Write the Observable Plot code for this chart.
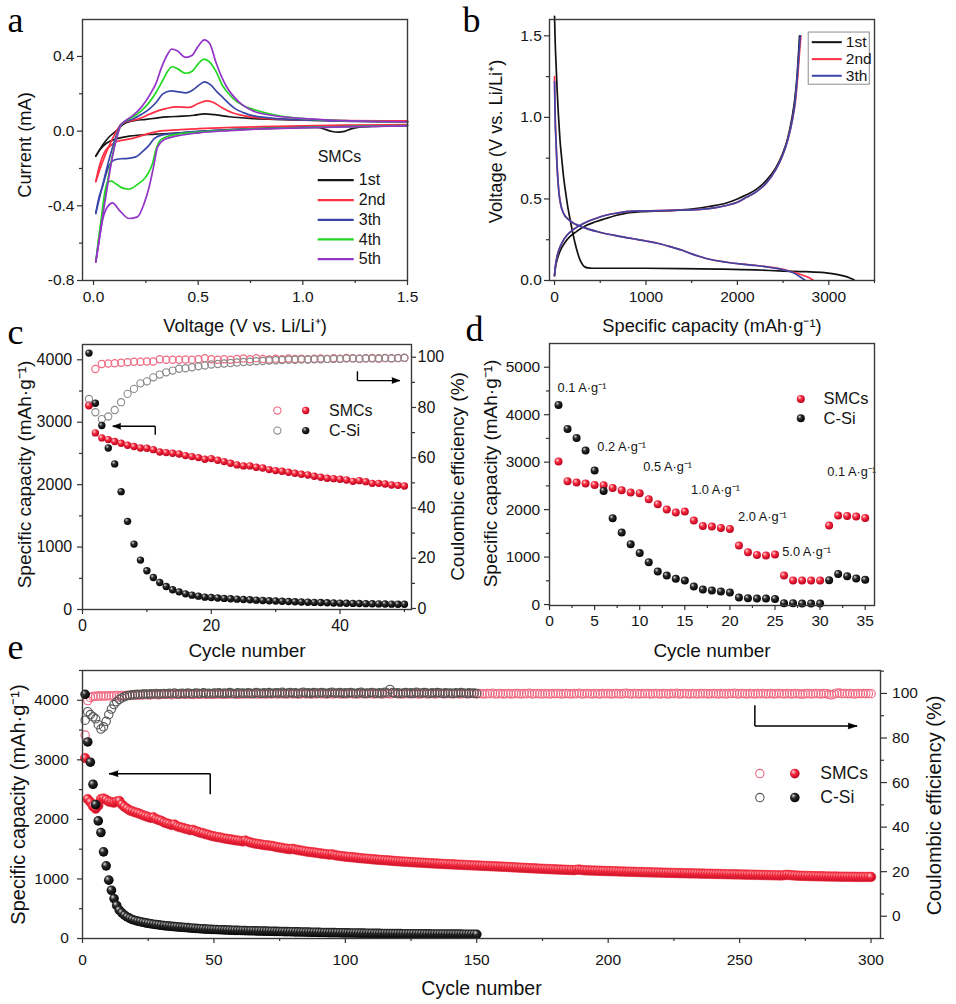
<!DOCTYPE html>
<html><head><meta charset="utf-8">
<script src="https://cdn.jsdelivr.net/npm/d3@7"></script>
<script src="https://cdn.jsdelivr.net/npm/@observablehq/plot@0.6"></script>
<style>
body{margin:0;background:#fff;}
#root{position:relative;width:956px;height:1004px;overflow:hidden;background:#fff;}
.panel{position:absolute;}
.panel svg{overflow:visible;}
</style></head><body>
<svg width="0" height="0" style="position:absolute">
<defs>
<radialGradient id="redBall" cx="0.42" cy="0.4" r="0.62" fx="0.33" fy="0.3">
<stop offset="0" stop-color="#ffd8dc"/><stop offset="0.45" stop-color="#f5283c"/><stop offset="1" stop-color="#b4001c"/>
</radialGradient>
<radialGradient id="blackBall" cx="0.42" cy="0.4" r="0.62" fx="0.33" fy="0.3">
<stop offset="0" stop-color="#dadada"/><stop offset="0.4" stop-color="#2a2a2a"/><stop offset="1" stop-color="#000"/>
</radialGradient>
</defs></svg>
<div id="root"></div>
<script>
// ---------------- Panel a : cyclic voltammetry (V, mA) ----------------
const cvCycles = ["1st", "2nd", "3th", "4th", "5th"];
const cv1Cat = [[0.011,-0.134],[0.03,-0.1],[0.06,-0.066],[0.099,-0.045],[0.17,-0.027],[0.298,-0.016],[0.4,-0.01],[0.5,-0.003],[0.6,0.004],[0.7,0.01],[0.8,0.015],[0.9,0.018],[1.0,0.021],[1.07,0.02],[1.11,0.008],[1.14,-0.002],[1.17,-0.005],[1.2,-0.001],[1.23,0.012],[1.27,0.021],[1.35,0.026],[1.5,0.03]];
const cv1An = [[0.011,-0.134],[0.043,-0.075],[0.075,-0.03],[0.107,0.0],[0.14,0.035],[0.17,0.05],[0.2,0.057],[0.25,0.063],[0.3,0.07],[0.35,0.076],[0.42,0.08],[0.48,0.085],[0.53,0.092],[0.58,0.088],[0.65,0.077],[0.75,0.068],[0.9,0.062],[1.1,0.057],[1.3,0.053],[1.5,0.05]];
const cv2Cat = [[0.011,-0.27],[0.025,-0.2],[0.04,-0.145],[0.06,-0.1],[0.085,-0.075],[0.107,-0.057],[0.187,-0.039],[0.266,-0.012],[0.314,0.0],[0.4,0.007],[0.5,0.013],[0.6,0.018],[0.8,0.024],[1.0,0.028],[1.2,0.032],[1.5,0.035]];
const cv2An = [[0.011,-0.27],[0.04,-0.175],[0.07,-0.09],[0.1,-0.02],[0.13,0.035],[0.16,0.052],[0.186,0.057],[0.23,0.072],[0.266,0.09],[0.31,0.11],[0.346,0.121],[0.394,0.13],[0.458,0.127],[0.5,0.148],[0.54,0.162],[0.57,0.155],[0.61,0.128],[0.66,0.1],[0.72,0.082],[0.8,0.07],[0.9,0.064],[1.0,0.06],[1.2,0.057],[1.5,0.055]];
const cv3Cat = [[0.011,-0.44],[0.025,-0.36],[0.043,-0.298],[0.06,-0.23],[0.075,-0.182],[0.099,-0.155],[0.13,-0.148],[0.157,-0.147],[0.202,-0.138],[0.234,-0.11],[0.266,-0.075],[0.29,-0.04],[0.33,-0.02],[0.43,-0.008],[0.6,0.005],[0.8,0.014],[1.0,0.02],[1.2,0.025],[1.5,0.03]];
const cv3An = [[0.011,-0.44],[0.03,-0.35],[0.05,-0.26],[0.07,-0.17],[0.09,-0.09],[0.11,-0.02],[0.13,0.035],[0.16,0.055],[0.186,0.064],[0.23,0.09],[0.266,0.118],[0.3,0.155],[0.33,0.198],[0.37,0.216],[0.4,0.212],[0.44,0.205],[0.48,0.225],[0.51,0.252],[0.53,0.264],[0.56,0.248],[0.59,0.21],[0.617,0.181],[0.65,0.145],[0.68,0.118],[0.72,0.098],[0.76,0.083],[0.85,0.07],[1.0,0.06],[1.2,0.053],[1.5,0.048]];
const cv4Cat = [[0.011,-0.7],[0.025,-0.57],[0.04,-0.44],[0.055,-0.32],[0.067,-0.272],[0.085,-0.268],[0.11,-0.285],[0.14,-0.305],[0.17,-0.31],[0.21,-0.285],[0.25,-0.245],[0.282,-0.173],[0.298,-0.1],[0.32,-0.048],[0.378,-0.021],[0.505,-0.005],[0.65,0.005],[0.8,0.013],[1.0,0.019],[1.2,0.024],[1.5,0.03]];
const cv4An = [[0.011,-0.7],[0.03,-0.54],[0.05,-0.39],[0.07,-0.25],[0.09,-0.13],[0.11,-0.035],[0.13,0.03],[0.16,0.06],[0.186,0.075],[0.23,0.11],[0.266,0.154],[0.3,0.21],[0.33,0.27],[0.355,0.322],[0.375,0.345],[0.4,0.335],[0.44,0.31],[0.47,0.32],[0.5,0.36],[0.527,0.386],[0.555,0.37],[0.585,0.32],[0.617,0.243],[0.65,0.195],[0.68,0.162],[0.72,0.135],[0.76,0.118],[0.85,0.09],[0.95,0.072],[1.1,0.06],[1.3,0.052],[1.5,0.048]];
const cv5Cat = [[0.011,-0.7],[0.025,-0.6],[0.043,-0.477],[0.067,-0.405],[0.091,-0.384],[0.123,-0.423],[0.17,-0.468],[0.21,-0.459],[0.242,-0.387],[0.266,-0.298],[0.29,-0.173],[0.306,-0.084],[0.338,-0.045],[0.394,-0.027],[0.505,-0.009],[0.65,0.003],[0.8,0.012],[1.0,0.018],[1.2,0.023],[1.5,0.028]];
const cv5An = [[0.011,-0.7],[0.03,-0.56],[0.05,-0.41],[0.07,-0.27],[0.09,-0.14],[0.11,-0.04],[0.13,0.03],[0.16,0.062],[0.186,0.082],[0.23,0.13],[0.266,0.189],[0.3,0.26],[0.322,0.332],[0.354,0.412],[0.374,0.44],[0.4,0.43],[0.44,0.395],[0.47,0.405],[0.5,0.455],[0.529,0.489],[0.555,0.47],[0.585,0.368],[0.633,0.243],[0.697,0.154],[0.76,0.109],[0.85,0.085],[0.99,0.068],[1.2,0.056],[1.5,0.05]];
const cvColors = ["#161616", "#ff2e42", "#3a47a8", "#22d822", "#9433c8"];
const cvCathodic = [cv1Cat, cv2Cat, cv3Cat, cv4Cat, cv5Cat];
const cvAnodic = [cv1An, cv2An, cv3An, cv4An, cv5An];

// ---------------- Panel b : charge/discharge (mAh/g, V) ----------------
const gcdCycles = ["1st", "2nd", "3th"];
const gcd1Dis = [[0,1.62],[8,1.45],[18,1.31],[30,1.15],[44,1.0],[60,0.86],[80,0.74],[100,0.63],[124,0.53],[148,0.44],[172,0.37],[200,0.29],[226,0.225],[255,0.165],[281,0.123],[310,0.095],[336,0.082],[370,0.077],[409,0.075],[700,0.075],[1000,0.075],[1400,0.073],[1800,0.07],[2200,0.065],[2500,0.058],[2750,0.054],[2950,0.048],[3100,0.036],[3200,0.022],[3275,0.004]];
const gcd1Chg = [[0,0.03],[10,0.08],[30,0.13],[60,0.18],[110,0.23],[170,0.27],[240,0.3],[310,0.327],[450,0.36],[560,0.38],[680,0.4],[800,0.415],[950,0.422],[1100,0.425],[1300,0.43],[1500,0.438],[1700,0.455],[1880,0.475],[2000,0.5],[2100,0.525],[2210,0.56],[2320,0.615],[2420,0.69],[2490,0.77],[2550,0.87],[2595,0.99],[2630,1.12],[2655,1.27],[2672,1.42],[2680,1.5]];
const gcd2Dis = [[0,1.25],[4,1.1],[8,0.98],[15,0.88],[25,0.74],[35,0.64],[50,0.53],[70,0.46],[100,0.41],[164,0.368],[310,0.327],[493,0.296],[700,0.272],[858,0.256],[1000,0.242],[1150,0.225],[1280,0.205],[1405,0.184],[1500,0.163],[1588,0.147],[1720,0.127],[1880,0.112],[2050,0.1],[2209,0.092],[2380,0.08],[2500,0.068],[2600,0.052],[2700,0.035],[2780,0.018],[2830,0.002]];
const gcd2Chg = [[0,0.03],[10,0.09],[25,0.14],[50,0.19],[90,0.24],[140,0.28],[200,0.31],[310,0.348],[450,0.38],[560,0.4],[680,0.413],[860,0.425],[1040,0.427],[1300,0.43],[1590,0.436],[1750,0.445],[1880,0.46],[2000,0.48],[2100,0.51],[2210,0.545],[2320,0.6],[2420,0.68],[2490,0.76],[2550,0.86],[2600,0.98],[2635,1.1],[2660,1.25],[2680,1.4],[2695,1.5]];
const gcd3Dis = [[0,1.22],[4,1.08],[8,0.97],[15,0.87],[25,0.73],[35,0.63],[50,0.53],[70,0.46],[100,0.41],[164,0.368],[310,0.327],[493,0.296],[700,0.272],[858,0.256],[1000,0.242],[1150,0.225],[1280,0.205],[1405,0.184],[1500,0.163],[1588,0.147],[1720,0.127],[1880,0.112],[2050,0.1],[2209,0.092],[2380,0.078],[2500,0.066],[2600,0.05],[2680,0.025],[2740,0.002]];
const gcd3Chg = [[0,0.03],[10,0.09],[25,0.14],[50,0.19],[90,0.24],[140,0.28],[200,0.31],[310,0.348],[450,0.38],[560,0.4],[680,0.413],[860,0.425],[1040,0.427],[1300,0.43],[1590,0.436],[1750,0.445],[1880,0.46],[2000,0.48],[2100,0.51],[2210,0.545],[2320,0.6],[2420,0.68],[2490,0.76],[2550,0.86],[2600,0.98],[2632,1.1],[2656,1.25],[2674,1.4],[2688,1.5]];
const gcdColors = ["#111111", "#ff2e42", "#3a47a8"];

// ---------------- Panel c : 50 cycles at 0.1 A/g ----------------
const cSMCsCap = [3267,2829,2749,2722,2690,2663,2631,2610,2588,2583,2561,2524,2513,2503,2492,2465,2449,2433,2406,2417,2390,2369,2342,2316,2300,2300,2278,2267,2241,2225,2214,2198,2182,2166,2155,2134,2118,2102,2096,2086,2075,2053,2064,2048,2021,2021,2011,1995,1989,1979];
const cCSiCap = [4107,3305,2947,2588,2332,1888,1412,1048,791,620,513,433,369,316,283,251,230,214,198,193,185,178,172,166,160,155,150,145,140,135,131,127,123,120,117,114,111,108,105,102,100,98,96,94,92,90,88,86,85,84];
const cSMCsCE = [80.8,95.3,97.3,97.5,97.6,97.8,98.0,98.2,98.2,98.3,98.3,99.2,99.0,99.0,99.0,99.1,99.0,99.2,99.6,99.2,99.0,99.2,99.0,99.3,99.5,99.2,99.6,99.3,99.1,99.4,99.2,99.5,99.3,99.4,99.2,99.4,99.5,99.3,99.6,99.4,99.7,99.6,99.4,99.5,99.7,99.4,99.6,99.5,99.6,99.7];
const cCSiCE = [83.4,78.1,75.4,76.4,79.0,82.1,85.4,87.4,89.6,90.4,92.0,93.1,94.0,94.7,95.4,95.6,96.0,96.4,96.7,97.1,97.3,97.5,97.7,97.9,98.1,98.2,98.4,98.5,98.7,98.8,98.9,99.0,99.0,99.1,99.1,99.2,99.2,99.3,99.3,99.3,99.5,99.5,99.4,99.6,99.5,99.6,99.7,99.6,99.7,99.8];

// ---------------- Panel d : rate capability ----------------
const dSMCs = [3013,2598,2570,2549,2521,2514,2458,2409,2360,2346,2219,2114,2001,1938,1959,1770,1657,1643,1615,1594,1243,1102,1046,1032,1053,611,506,506,506,506,1664,1875,1868,1854,1826];
const dCSi = [4206,3701,3511,3244,2823,2395,1819,1517,1271,1088,892,695,611,541,506,379,316,295,274,253,147,133,126,126,119,28,28,21,21,21,513,646,597,548,520];
const dRateLabels = ["0.1 A·g⁻¹","0.2 A·g⁻¹","0.5 A·g⁻¹","1.0 A·g⁻¹","2.0 A·g⁻¹","5.0 A·g⁻¹","0.1 A·g⁻¹"];
const dRateX = [0.9, 5.3, 10.4, 15.7, 20.9, 25.8, 30.8];
const dRateY = [4571, 3314, 2907, 2423, 1854, 1101, 2787];

// ---------------- Panel e : long cycling ----------------
const eSMCsCap = [3030,2340,2290,2220,2180,2230,2340,2350,2330,2300,
2290,2280,2300,2310,2250,2210,2180,2150,2135,2120,
2105,2090,2070,2055,2040,2025,2035,2005,1990,1975,
1950,1935,1920,1905,1915,1885,1870,1860,1845,1835,
1820,1825,1805,1790,1775,1765,1750,1740,1725,1715,
1705,1700,1690,1680,1672,1665,1660,1650,1645,1638,
1630,1645,1625,1612,1600,1592,1585,1578,1570,1565,
1560,1555,1545,1535,1528,1520,1512,1505,1500,1505,
1495,1485,1478,1470,1462,1455,1450,1445,1440,1432,
1425,1420,1415,1408,1412,1400,1392,1386,1380,1375,
1370,1366,1362,1358,1352,1348,1344,1340,1336,1332,
1328,1324,1320,1317,1314,1311,1308,1304,1300,1297,
1294,1291,1289,1286,1283,1280,1277,1275,1272,1270,
1267,1264,1262,1259,1257,1255,1252,1250,1248,1246,
1244,1241,1239,1237,1235,1233,1231,1229,1227,1225,
1223,1221,1219,1217,1215,1213,1211,1209,1207,1205,
1203,1200,1198,1195,1193,1190,1188,1186,1183,1181,
1179,1177,1175,1172,1170,1168,1166,1164,1162,1160,
1158,1156,1155,1153,1151,1150,1148,1154,1157,1150,
1146,1144,1142,1141,1139,1138,1136,1135,1133,1132,
1131,1129,1128,1126,1125,1124,1122,1121,1120,1118,
1117,1116,1114,1113,1112,1111,1109,1108,1107,1106,
1105,1104,1102,1101,1100,1099,1098,1097,1096,1095,
1094,1093,1092,1091,1090,1089,1088,1087,1086,1085,
1084,1083,1082,1081,1080,1079,1078,1077,1076,1075,
1074,1073,1072,1071,1070,1069,1068,1067,1066,1065,
1064,1063,1062,1061,1060,1059,1064,1068,1065,1061,
1058,1055,1053,1051,1050,1049,1048,1047,1046,1045,
1044,1043,1042,1041,1040,1040,1039,1038,1037,1037,
1036,1036,1035,1035,1034,1034,1033,1033,1034,1034];
const eSMCsCE = [81.3,96.8,98.2,98.6,98.7,98.8,98.9,98.8,98.9,99.0,
98.9,99.0,99.1,98.9,99.1,99.0,99.2,99.1,99.2,99.3,
99.2,99.4,99.3,99.5,99.4,99.3,99.6,99.5,99.4,99.6,
99.5,99.7,99.6,99.4,99.8,99.6,99.5,99.7,99.6,99.8,
99.7,99.5,99.8,99.6,99.7,99.9,99.6,99.8,99.7,99.6,
99.8,99.7,99.9,99.6,99.8,99.7,99.9,99.8,99.6,99.8,
99.7,99.9,99.8,99.7,100.0,99.8,99.7,99.9,99.8,99.7,
99.9,99.8,100.0,99.7,99.9,99.8,99.9,99.7,100.0,99.8,
99.9,99.7,99.8,100.0,99.8,99.9,99.7,99.9,99.8,100.1,
99.8,99.9,99.7,100.0,99.8,99.9,100.0,99.8,99.9,99.7,
99.9,100.0,99.8,99.9,99.7,100.0,99.9,99.8,100.0,99.9,
99.8,100.0,99.9,99.7,99.9,100.0,99.8,99.9,100.1,99.8,
99.9,99.8,100.0,99.9,99.8,100.0,99.9,99.7,99.9,100.0,
99.8,99.9,100.0,99.8,99.9,100.1,99.9,99.8,100.0,99.9,
99.8,100.0,99.9,99.8,100.0,99.9,99.8,100.0,99.9,99.8,
100.0,99.9,99.8,100.0,99.9,100.1,99.8,99.9,100.0,99.8,
99.9,100.0,99.8,99.9,100.0,99.9,99.8,100.0,99.9,100.1,
99.8,99.9,100.0,99.9,99.8,100.0,99.9,99.8,100.0,99.9,
100.0,99.8,99.9,100.0,99.9,99.8,100.0,99.9,100.1,99.8,
99.9,100.0,99.9,99.8,100.0,99.9,99.8,100.0,99.9,100.0,
99.8,99.9,100.0,99.9,99.8,100.0,100.1,99.9,99.8,100.0,
99.9,99.8,100.0,99.9,100.0,99.8,99.9,100.0,99.9,99.8,
100.0,99.9,99.8,100.0,99.9,100.1,99.8,99.9,100.0,99.9,
99.8,100.0,99.9,99.8,100.0,99.9,100.0,99.8,99.9,100.0,
99.9,99.8,100.0,99.9,99.8,100.0,99.9,100.1,99.8,99.9,
100.0,99.9,99.8,100.0,99.9,99.8,100.0,99.9,100.0,99.8,
99.9,100.0,99.8,99.9,100.0,99.9,99.8,100.0,99.9,99.8,
100.0,99.9,99.8,99.7,99.9,100.0,99.8,99.9,100.0,99.9,
99.8,100.0,99.9,99.6,99.4,99.8,100.1,100.2,99.9,100.0,
99.9,100.0,99.9,99.8,100.0,99.9,100.0,99.9,100.0,99.9];
const eCSiCap = [4100,3300,2960,2590,2250,1975,1780,1455,1220,980,
810,670,555,475,430,391,362,338,319,303,
292,282,272,263,255,247,240,234,228,222,
217,212,207,203,199,195,191,188,185,182,
176,173,170,167,164,161,158,156,154,152,
150,148,146,144,142,140,138,137,136,135,
134,133,131,130,129,128,126,125,124,123,
122,121,120,119,118,117,116,115,114,113,
112,111,110,109,108,107,106,105,104,103,
102,101,100,99,99,98,97,96,95,95,
94,93,92,92,91,90,90,89,88,88,
87,86,86,85,85,84,84,83,83,82,
82,81,81,80,80,79,79,78,78,78,
77,77,76,76,76,75,75,75,74,74,
74,73,73,73,72,72,72,71,71,71];
const eCSiCE = [88.0,91.8,90.5,89.5,88.6,86.0,84.0,85.0,87.5,90.5,
93.0,95.0,96.3,97.3,98.0,98.6,99.0,99.2,99.4,99.5,
99.6,99.5,99.7,99.8,99.6,99.9,99.8,100.0,99.7,99.9,
100.0,99.8,100.1,99.9,100.2,99.8,100.0,100.1,99.9,100.2,
100.0,99.9,100.2,100.1,99.9,100.3,100.0,100.1,99.9,100.2,
100.1,100.3,99.9,100.2,100.0,100.4,100.1,99.9,100.3,100.1,
100.2,100.0,100.3,100.1,99.9,100.4,100.2,100.0,100.3,100.1,
100.4,100.0,100.2,100.3,100.1,100.5,100.0,100.2,100.4,100.1,
100.3,100.0,100.2,100.5,100.1,100.3,100.0,100.4,100.2,100.1,
100.4,100.2,100.0,100.3,100.5,100.1,100.2,100.4,100.0,100.3,
100.1,100.4,100.2,100.0,100.3,100.5,100.0,100.2,100.1,100.4,
100.2,100.0,100.3,100.1,100.5,100.2,101.8,100.4,100.1,100.3,
100.0,100.2,100.4,100.1,100.3,100.0,100.5,100.2,100.1,100.4,
100.2,100.0,100.3,100.1,100.4,100.2,100.0,100.3,100.1,100.2,
100.0,100.3,100.1,100.4,100.2,100.0,100.3,100.1,100.2,100.0];

const seriesNames = ["SMCs", "C-Si"];

// ---------------- styling helpers ----------------
const FONT = "'Liberation Sans', Arial, Helvetica, sans-serif";
const SERIF = "'Liberation Serif', 'Times New Roman', serif";
const AXC = "#333";
const PINK = "#ef6880", GREY = "#8a8a8a";

function place(plot, left, top) {
  const div = document.createElement("div");
  div.className = "panel";
  div.style.left = left + "px";
  div.style.top = top + "px";
  div.appendChild(plot);
  document.getElementById("root").appendChild(div);
}
function style(fs) {
  return {fontFamily: FONT, fontSize: fs + "px", color: "#141414", background: "transparent", overflow: "visible"};
}
function xAxes(major, minor, fmt, pad) {
  return [
    Plot.axisX(major, {tickSize: 5, tickPadding: pad, tickFormat: fmt, label: null, stroke: AXC, strokeWidth: 1.2}),
    Plot.axisX(minor, {tickSize: 3, tickFormat: () => "", label: null, stroke: AXC, strokeWidth: 1.2})
  ];
}
function yAxes(major, minor, fmt, pad, anchor = "left", size = 5) {
  return [
    Plot.axisY(major, {anchor, tickSize: size, tickPadding: pad, tickFormat: fmt, label: null, stroke: AXC, strokeWidth: 1.2}),
    Plot.axisY(minor, {anchor, tickSize: 3, tickFormat: () => "", label: null, stroke: AXC, strokeWidth: 1.2})
  ];
}
function letter(ch, dx, dy) {
  return Plot.text([ch], {text: d => d, frameAnchor: "top-left", dx, dy, textAnchor: "start", lineAnchor: "bottom", fontSize: 36, fontFamily: SERIF, fill: "#000"});
}
function title(t, frameAnchor, dx, dy, fs, rotate = 0) {
  return Plot.text([t], {text: d => d, frameAnchor, dx, dy, rotate, textAnchor: "middle", lineAnchor: "middle", fontSize: fs, fill: "#111"});
}
// bent annotation arrow: vertical stem, horizontal shaft, filled spike head
function bentArrow(a, yStart, yEnd, dir, sw, headLen) {
  return [
    Plot.link([a], {x1: "xv", x2: "xv", y1: yStart, y2: yEnd, stroke: "#000", strokeWidth: sw}),
    Plot.link([a], {x1: "xv", x2: "xTip", y1: yEnd, y2: yEnd, stroke: "#000", strokeWidth: sw}),
    Plot.vector([a], {x: "xTip", y: yEnd, length: headLen, rotate: dir, shape: "spike", r: 3, anchor: "end", fill: "#000", stroke: "#000", strokeWidth: 0.5})
  ];
}
const frame = () => Plot.frame({stroke: "#3a3a3a", strokeWidth: 1.4});
const fmt1 = d => d.toFixed(1);
const fmt0 = d => String(d);
const idx = (d, i) => i + 1;

// ================= Panel a =================
const aLegendX = [1.071, 1.243, 1.267];
const aLegendTitleY = -0.139;
const aLegendRowY = [-0.262, -0.370, -0.475, -0.580, -0.686];
place(Plot.plot({
  width: 470, height: 335, marginLeft: 82, marginTop: 19, marginRight: 63, marginBottom: 55,
  style: style(15.5),
  x: {domain: [-0.0526, 1.5]},
  y: {domain: [-0.8, 0.598]},
  marks: [
    ...cvCycles.flatMap((c, i) => [
      Plot.line(cvCathodic[i], {x: d => d[0], y: d => d[1], stroke: cvColors[i], strokeWidth: 1.7, curve: "monotone-x"}),
      Plot.line(cvAnodic[i], {x: d => d[0], y: d => d[1], stroke: cvColors[i], strokeWidth: 1.7, curve: "monotone-x"})
    ]),
    Plot.link(cvCycles, {x1: () => aLegendX[0], x2: () => aLegendX[1], y1: (d, i) => aLegendRowY[i], y2: (d, i) => aLegendRowY[i], stroke: (d, i) => cvColors[i], strokeWidth: 2.2}),
    Plot.text(cvCycles, {x: () => aLegendX[2], y: (d, i) => aLegendRowY[i], text: d => d, textAnchor: "start", fontSize: 16}),
    Plot.text(["SMCs"], {x: () => aLegendX[0], y: () => aLegendTitleY, text: d => d, textAnchor: "start", fontSize: 16}),
    frame(),
    ...xAxes([0, 0.5, 1, 1.5], [0.25, 0.75, 1.25], fmt1, 5.7),
    ...yAxes([-0.8, -0.4, 0, 0.4], [-0.6, -0.2, 0.2], fmt1, 3),
    title("Current (mA)", "left", -57, -5, 18.3, -90),
    title("Voltage (V vs. Li/Li⁺)", "bottom", 0, 46, 18.3),
    letter("a", -75, 12.7)
  ]
}), 0, 0);

// ================= Panel b =================
const bLegendBox = {x1: 2781, x2: 3449, y1: 1.20, y2: 1.52};
const bLegendX = [2814, 3142, 3186];
const bLegendRowY = [1.461, 1.357, 1.255];
const gcdDis = [gcd1Dis, gcd2Dis, gcd3Dis];
const gcdChg = [gcd1Chg, gcd2Chg, gcd3Chg];
place(Plot.plot({
  width: 486, height: 335, marginLeft: 79, marginTop: 19, marginRight: 82, marginBottom: 55,
  style: style(15.5),
  x: {domain: [-55, 3500]},
  y: {domain: [0, 1.6]},
  marks: [
    ...gcdCycles.flatMap((c, i) => [
      Plot.line(gcdDis[i], {x: d => d[0], y: d => d[1], stroke: gcdColors[i], strokeWidth: 1.7, curve: "monotone-x"}),
      Plot.line(gcdChg[i], {x: d => d[0], y: d => d[1], stroke: gcdColors[i], strokeWidth: 1.7, curve: "monotone-x"})
    ]),
    Plot.rect([bLegendBox], {x1: "x1", x2: "x2", y1: "y1", y2: "y2", fill: "white", stroke: "#a0a0a0", strokeWidth: 1.2}),
    Plot.link(gcdCycles, {x1: () => bLegendX[0], x2: () => bLegendX[1], y1: (d, i) => bLegendRowY[i], y2: (d, i) => bLegendRowY[i], stroke: (d, i) => gcdColors[i], strokeWidth: 2}),
    Plot.text(gcdCycles, {x: () => bLegendX[2], y: (d, i) => bLegendRowY[i], text: d => d, textAnchor: "start", fontSize: 15.5}),
    frame(),
    ...xAxes([0, 1000, 2000, 3000], [500, 1500, 2500, 3500], fmt0, 5.7),
    ...yAxes([0, 0.5, 1, 1.5], [0.25, 0.75, 1.25], fmt1, 2.7),
    title("Voltage (V vs. Li/Li⁺)", "left", -53, -8.5, 18.3, -90),
    title("Specific capacity (mAh·g⁻¹)", "bottom", 0, 46, 18.3),
    letter("b", -87, 12.7)
  ]
}), 470, 0);

// ================= Panel c =================
const cCapDomain = [0, 4245], cCEDomain = [-0.4, 105.06];
const cCe2cap = ce => (ce - cCEDomain[0]) / (cCEDomain[1] - cCEDomain[0]) * (cCapDomain[1] - cCapDomain[0]) + cCapDomain[0];
const cCap2ce = v => (v - cCapDomain[0]) / (cCapDomain[1] - cCapDomain[0]) * (cCEDomain[1] - cCEDomain[0]) + cCEDomain[0];
const cLegendX = [30.27, 34.67, 38.29];
const cLegendY = [3187, 2866];
const cArrowLeft = {xv: 11.3, yBottom: 2800, yTop: 2935, xTip: 4.7};
const cArrowRight = {xv: 42.7, ceTop: 94.4, ceBottom: 90.7, xTip: 49.3};
place(Plot.plot({
  width: 470, height: 350, marginLeft: 82, marginTop: 34, marginRight: 59, marginBottom: 51,
  style: style(16),
  x: {domain: [0, 51.1]},
  y: {domain: cCapDomain},
  marks: [
    Plot.dot(cSMCsCE, {x: idx, y: d => cCe2cap(d), r: 3.6, stroke: PINK, strokeWidth: 1.1, fill: "none"}),
    Plot.dot(cSMCsCap, {x: idx, y: d => d, r: 3.7, fill: "url(#redBall)"}),
    Plot.dot(cCSiCE, {x: idx, y: d => cCe2cap(d), r: 3.6, stroke: GREY, strokeWidth: 1.1, fill: "none"}),
    Plot.dot(cCSiCap, {x: idx, y: d => d, r: 3.7, fill: "url(#blackBall)"}),
    ...bentArrow(cArrowLeft, "yBottom", "yTop", -90, 1.4, 8),
    ...bentArrow(cArrowRight, d => cCe2cap(d.ceTop), d => cCe2cap(d.ceBottom), 90, 1.4, 8),
    Plot.dot(seriesNames, {x: () => cLegendX[0], y: (d, i) => cLegendY[i], r: 3.6, stroke: (d, i) => [PINK, GREY][i], strokeWidth: 1.1, fill: "none"}),
    Plot.dot(seriesNames, {x: () => cLegendX[1], y: (d, i) => cLegendY[i], r: 3.7, fill: (d, i) => ["url(#redBall)", "url(#blackBall)"][i]}),
    Plot.text(seriesNames, {x: () => cLegendX[2], y: (d, i) => cLegendY[i], text: d => d, textAnchor: "start", fontSize: 16}),
    frame(),
    ...xAxes([0, 20, 40], [10, 30, 50], fmt0, 5.3),
    ...yAxes([0, 1000, 2000, 3000, 4000], [500, 1500, 2500, 3500], fmt0, 5.3),
    ...yAxes([0, 20, 40, 60, 80, 100].map(cCe2cap), [10, 30, 50, 70, 90].map(cCe2cap), d => String(Math.round(cCap2ce(d))), 2, "right", 4),
    title("Specific capacity (mAh·g⁻¹)", "left", -58, -2.5, 19, -90),
    title("Coulombic efficiency (%)", "right", 46, -0.5, 19, -90),
    title("Cycle number", "bottom", 0, 41, 19),
    letter("c", -75, -1)
  ]
}), 0, 310);

// ================= Panel d =================
const dLegendX = [27.86, 30.38];
const dLegendY = [4333, 3925];
place(Plot.plot({
  width: 486, height: 350, marginLeft: 79, marginTop: 33, marginRight: 82, marginBottom: 55,
  style: style(15.5),
  x: {domain: [0, 36.03]},
  y: {domain: [-20, 5500]},
  marks: [
    Plot.dot(dSMCs, {x: idx, y: d => d, r: 4, fill: "url(#redBall)"}),
    Plot.dot(dCSi, {x: idx, y: d => d, r: 4, fill: "url(#blackBall)"}),
    Plot.text(dRateLabels, {x: (d, i) => dRateX[i], y: (d, i) => dRateY[i], text: d => d, textAnchor: "start", fontSize: 12.8}),
    Plot.dot(seriesNames, {x: () => dLegendX[0], y: (d, i) => dLegendY[i], r: 4, fill: (d, i) => ["url(#redBall)", "url(#blackBall)"][i]}),
    Plot.text(seriesNames, {x: () => dLegendX[1], y: (d, i) => dLegendY[i], text: d => d, textAnchor: "start", fontSize: 16.5}),
    frame(),
    ...xAxes([0, 5, 10, 15, 20, 25, 30, 35], [2.5, 7.5, 12.5, 17.5, 22.5, 27.5, 32.5], fmt0, 4),
    ...yAxes([0, 1000, 2000, 3000, 4000, 5000], [500, 1500, 2500, 3500, 4500], fmt0, 4.3),
    title("Specific capacity (mAh·g⁻¹)", "left", -59, -1, 19, -90),
    title("Cycle number", "bottom", 0, 45, 19),
    letter("d", -84, -3)
  ]
}), 470, 310);

// ================= Panel e =================
const eCapDomain = [0, 4500], eCEDomain = [-10, 110.3];
const eCe2cap = ce => (ce - eCEDomain[0]) / (eCEDomain[1] - eCEDomain[0]) * (eCapDomain[1] - eCapDomain[0]) + eCapDomain[0];
const eCap2ce = v => (v - eCapDomain[0]) / (eCapDomain[1] - eCapDomain[0]) * (eCEDomain[1] - eCEDomain[0]) + eCEDomain[0];
const eLegendX = [257.7, 271.0, 280.7];
const eLegendY = [2769, 2367];
const eArrowLeft = {xv: 48.6, yBottom: 2421, yTop: 2768, xTip: 10.1};
const eArrowRight = {xv: 255.8, ceTop: 94.7, ceBottom: 85.4, xTip: 294.7};
place(Plot.plot({
  width: 956, height: 379, marginLeft: 82, marginTop: 45, marginRight: 76, marginBottom: 66,
  style: style(15.5),
  x: {domain: [0, 303.6]},
  y: {domain: eCapDomain},
  marks: [
    Plot.dot(eSMCsCE, {x: idx, y: d => eCe2cap(d), r: 4.2, stroke: PINK, strokeWidth: 1.1, fill: "none"}),
    Plot.dot(eSMCsCap, {x: idx, y: d => d, r: 4.8, fill: "url(#redBall)", stroke: "#f03040", strokeWidth: 0.6}),
    Plot.dot(eCSiCE, {x: idx, y: d => eCe2cap(d), r: 4.2, stroke: "#555", strokeWidth: 1.1, fill: "none"}),
    Plot.dot(eCSiCap, {x: idx, y: d => d, r: 4.8, fill: "url(#blackBall)"}),
    ...bentArrow(eArrowLeft, "yBottom", "yTop", -90, 1.5, 9),
    ...bentArrow(eArrowRight, d => eCe2cap(d.ceTop), d => eCe2cap(d.ceBottom), 90, 1.5, 9),
    Plot.dot(seriesNames, {x: () => eLegendX[0], y: (d, i) => eLegendY[i], r: 4.2, stroke: (d, i) => [PINK, "#555"][i], strokeWidth: 1.1, fill: "none"}),
    Plot.dot(seriesNames, {x: () => eLegendX[1], y: (d, i) => eLegendY[i], r: 4.8, fill: (d, i) => ["url(#redBall)", "url(#blackBall)"][i]}),
    Plot.text(seriesNames, {x: () => eLegendX[2], y: (d, i) => eLegendY[i], text: d => d, textAnchor: "start", fontSize: 17.5}),
    frame(),
    ...xAxes([0, 50, 100, 150, 200, 250, 300], [25, 75, 125, 175, 225, 275], fmt0, 10),
    ...yAxes([0, 1000, 2000, 3000, 4000], [500, 1500, 2500, 3500, 4500], fmt0, 8.7),
    ...yAxes([0, 20, 40, 60, 80, 100].map(eCe2cap), [-10, 10, 30, 50, 70, 90, 110].map(eCe2cap), d => String(Math.round(eCap2ce(d))), 5.6, "right", 6),
    title("Specific capacity (mAh·g⁻¹)", "left", -64, 0, 20, -90),
    title("Coulombic efficiency (%)", "right", 54, 1, 20, -90),
    title("Cycle number", "bottom", 0, 50, 19.5),
    letter("e", -75, -12)
  ]
}), 0, 625);
</script>
</body></html>
